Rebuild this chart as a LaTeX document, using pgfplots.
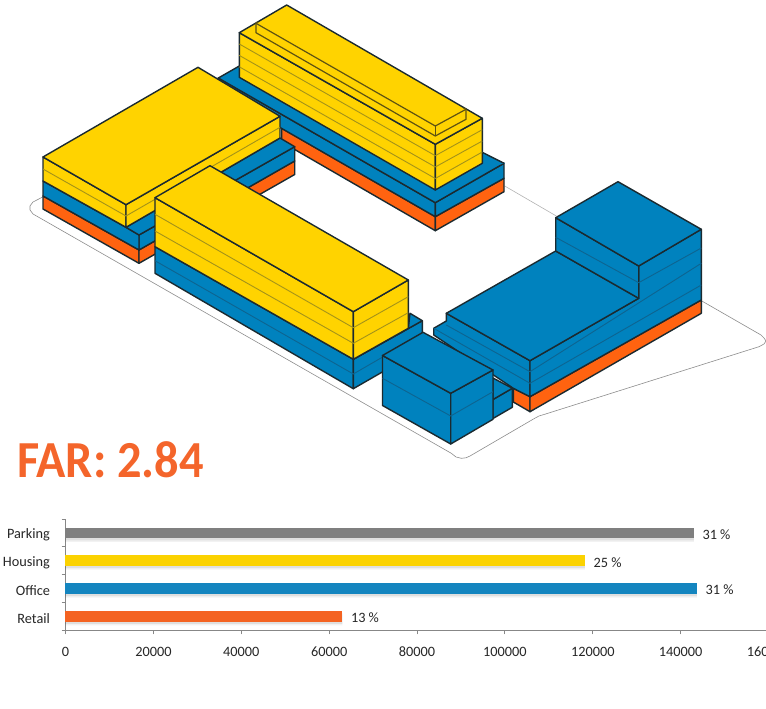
\documentclass[border=0pt]{standalone}
\usepackage{fontspec}
\setmainfont{Carlito}
\usepackage{pgfplots}
\pgfplotsset{compat=1.18}
\definecolor{myyellow}{HTML}{FFD300}
\definecolor{myblue}{HTML}{0082BE}
\definecolor{myorange}{HTML}{FF6310}
\definecolor{edge}{HTML}{1B2A30}
\definecolor{floory}{HTML}{A3921A}
\definecolor{floorb}{HTML}{0E6490}
\definecolor{stepy}{HTML}{5E5312}
\definecolor{bargrey}{HTML}{7F7F7F}
\definecolor{baryellow}{HTML}{FBD200}
\definecolor{barblue}{HTML}{1485BF}
\definecolor{barorange}{HTML}{F46322}
\definecolor{farcol}{HTML}{F4652B}
% filled face and thin lines, in pixel coordinates of the picture
\newcommand{\face}[2]{\addplot[fill=#1,draw=edge,line width=1.4pt,line join=round] coordinates {#2} -- cycle;}
\newcommand{\yline}[1]{\addplot[draw=floory,line width=0.9pt] coordinates {#1};}
\newcommand{\bline}[1]{\addplot[draw=floorb,line width=0.9pt] coordinates {#1};}
\newcommand{\eline}[1]{\addplot[draw=edge,line width=1.4pt] coordinates {#1};}
\pgfplotsset{mainbar/.style={xbar, bar width=10.7pt, bar shift=0pt, draw=none, fill=#1,
    nodes near coords, point meta=explicit symbolic,
    every node near coord/.append style={anchor=west, inner sep=0pt, xshift=8.5pt, yshift=-1.5pt, font=\fontsize{14.3}{16}\selectfont, text=black!85}}}
\begin{document}
\begin{tikzpicture}
\useasboundingbox (0,0) rectangle (766pt,709pt);
\begin{axis}[
    at={(0pt,0pt)}, anchor=south west,
    width=766pt, height=709pt, scale only axis,
    xmin=0, xmax=766, ymin=0, ymax=709, y dir=reverse,
    hide axis, clip=false
]
% site outline
\addplot[draw=black!45,line width=0.6pt] coordinates {
  (42.7,197) (33,202) (30,206) (30,210) (33,214) (451.3,453.3) (456,457) (461.3,458.3) (466,457.8) (470,456)
  (534.7,418.3) (539,416) (544,414.5) (759,346.7) (764,344) (766,341)};
\addplot[draw=black!45,line width=0.6pt] coordinates {(766,341) (764,338) (761,335) (701.3,300.7)};
\addplot[draw=black!30,line width=0.6pt] coordinates {(504.7,186) (556.3,216)};
% back block: base
\face{myorange}{(281.7,128.3) (435.3,216.7) (435.3,230.7) (281.7,142)}
\face{myorange}{(435.3,216.7) (504,178.3) (504,191.7) (435.3,230.7)}
\face{myblue}{(218.3,78) (435.3,202.7) (435.3,216.7) (218.3,92)}
\face{myblue}{(435.3,202.7) (504,163.3) (504,178.3) (435.3,216.7)}
\face{myblue}{(218.3,78) (239.3,66) (504,163.3) (435.3,202.7)}
\addplot[draw=myblue,fill=myblue,line width=0.6pt] coordinates {(239.3,66) (483,152.7) (504,163.3) (470,170)} -- cycle;
\eline{(483,152.7) (504,163.3)}
% back block: tower
\face{myyellow}{(239.3,32.7) (435.3,144.3) (435.3,190) (239.3,77.3)}
\face{myyellow}{(435.3,144.3) (482.3,118.3) (482.3,163.3) (435.3,190)}
\face{myyellow}{(239.3,32.7) (286.7,5) (482.3,118.3) (435.3,144.3)}
\yline{(239.3,44) (435.3,155.7)}
\yline{(239.3,55.4) (435.3,167)}
\yline{(239.3,66.8) (435.3,178.5)}
\yline{(435.3,155.7) (482.3,129.7)}
\yline{(435.3,167) (482.3,141)}
\yline{(435.3,178.5) (482.3,152)}
% roof step on the back block
\addplot[draw=stepy,line width=1.2pt] coordinates {(258,21.8) (256,23.3) (256,32.7) (435.3,136) (466,119.3) (466,109.3) (463.5,107.8)};
\addplot[draw=stepy,line width=1.2pt] coordinates {(256,23.3) (435.3,126) (466,109.3)};
\addplot[draw=stepy,line width=1.2pt] coordinates {(435.3,126) (435.3,136)};
% left block: lower part
\face{myorange}{(43,196) (139,250) (139,263.3) (43,209)}
\face{myorange}{(139,250) (294.7,161) (294.7,174.5) (139,263.3)}
\face{myblue}{(139,235) (294.7,146.7) (294.7,161) (139,250)}
\face{myblue}{(43,181) (126,227.3) (139,235) (139,250) (43,196)}
\face{myblue}{(126,227.3) (280,138) (294.7,146.7) (139,235)}
% left block: yellow
\face{myyellow}{(43,157) (126,204.7) (126,227.3) (43,181)}
\face{myyellow}{(126,204.7) (280,116.3) (280,138) (126,227.3)}
\face{myyellow}{(43,157) (198,67.3) (280,116.3) (126,204.7)}
\yline{(43,169) (126,216) (280,127.3)}
% middle block: base
\face{myblue}{(155,246.7) (353.3,359.3) (353.3,388.7) (155,273.3)}
\face{myblue}{(353.3,359.3) (422.3,320.7) (422.3,349) (353.3,388.7)}
\face{myblue}{(353.3,359.3) (408.3,328.3) (410,313.3) (422.3,320.7)}
\bline{(155,260.7) (353.3,374) (400,347)}
% middle block: yellow
\face{myyellow}{(155,197.7) (353.3,311.7) (353.3,359.3) (155,246.7)}
\face{myyellow}{(353.3,311.7) (408.3,280) (408.3,328.3) (353.3,359.3)}
\face{myyellow}{(155,197.7) (210,165.7) (408.3,280) (353.3,311.7)}
\yline{(155,214.3) (353.3,327.7) (408.3,296.7)}
\yline{(155,231) (353.3,343.3) (408.3,312.7)}
% right block
\face{myorange}{(513.3,388.3) (530,396.7) (530,411.7) (513.3,402)}
\face{myorange}{(530,396.7) (701.3,300) (701.3,313.3) (530,411.7)}
\face{myblue}{(433.7,328.3) (446.3,321) (446.3,313.3) (530,360.7) (530,396.7) (513.3,388.3) (433.7,335)}
\face{myblue}{(530,360.7) (638.7,298.3) (638.7,266) (701.3,229.3) (701.3,300) (530,396.7)}
\face{myblue}{(446.3,313.3) (555.7,251) (638.7,298.3) (530,360.7)}
\face{myblue}{(555.7,217.7) (638.7,266) (638.7,298.3) (555.7,251)}
\face{myblue}{(555.7,217.7) (618,181.7) (701.3,229.3) (638.7,266)}
\bline{(555.7,237.3) (638.7,282.7) (701.3,248)}
\bline{(446.3,325) (530,371.7) (701.3,263.3)}
\bline{(433.7,328.3) (530,383.3) (701.3,285)}
% small block
\face{myblue}{(493,399.5) (512.3,388.3) (512.3,407.3) (493,418.5)}
\face{myblue}{(493,378) (512.3,388.3) (493,399.5)}
\face{myblue}{(382.5,355.5) (450.7,393.3) (450.7,444) (382.5,405.5)}
\face{myblue}{(450.7,393.3) (493,370) (493,419.3) (450.7,444)}
\face{myblue}{(382.5,355.5) (423,332.3) (493,370) (450.7,393.3)}
\bline{(382.5,378.3) (450.7,416) (493,391.7)}
\node[anchor=base west,inner sep=0pt,transform shape,xscale=0.93,font=\bfseries\fontsize{52}{54}\selectfont,text=farcol] at (axis cs:17,477) {FAR: 2.84};
\end{axis}
\begin{axis}[
    at={(65.5pt,78.7pt)}, anchor=south west,
    width=703pt, height=111.3pt, scale only axis,
    xmin=0, xmax=160000, ymin=-0.5, ymax=3.5,
    axis lines=left, axis line style={-, draw=black!47, line width=0.8pt},
    xtick={0,20000,40000,60000,80000,100000,120000,140000,160000},
    xticklabels={0,20000,40000,60000,80000,100000,120000,140000,160000},
    ytick={-0.5,0.5,1.5,2.5,3.5}, yticklabels={},
    extra y ticks={0,1,2,3}, extra y tick labels={Retail,Office,Housing,Parking},
    extra y tick style={major tick length=0pt, tick style={draw=none}},
    tick align=outside,
    major tick length=4pt,
    tick style={draw=black!47, line width=0.8pt},
    scaled x ticks=false,
    tick label style={font=\fontsize{14.3}{16}\selectfont, text=black!85},
    y tick label style={xshift=-12pt, yshift=-2pt},
    x tick label style={yshift=-9pt},
    clip=false
]
% soft shadow under the bars
\addplot[xbar, bar width=11pt, bar shift=-2pt, draw=none, fill=black, fill opacity=0.08] coordinates {(143000,3) (118200,2) (143700,1) (63000,0)};
\addplot[xbar, bar width=11pt, bar shift=-3.5pt, draw=none, fill=black, fill opacity=0.05] coordinates {(143000,3) (118200,2) (143700,1) (63000,0)};
\addplot[mainbar=bargrey] coordinates {(143000,3) [31 \%]};
\addplot[mainbar=baryellow] coordinates {(118200,2) [25 \%]};
\addplot[mainbar=barblue] coordinates {(143700,1) [31 \%]};
\addplot[mainbar=barorange] coordinates {(63000,0) [13 \%]};
\end{axis}
\end{tikzpicture}
\end{document}
